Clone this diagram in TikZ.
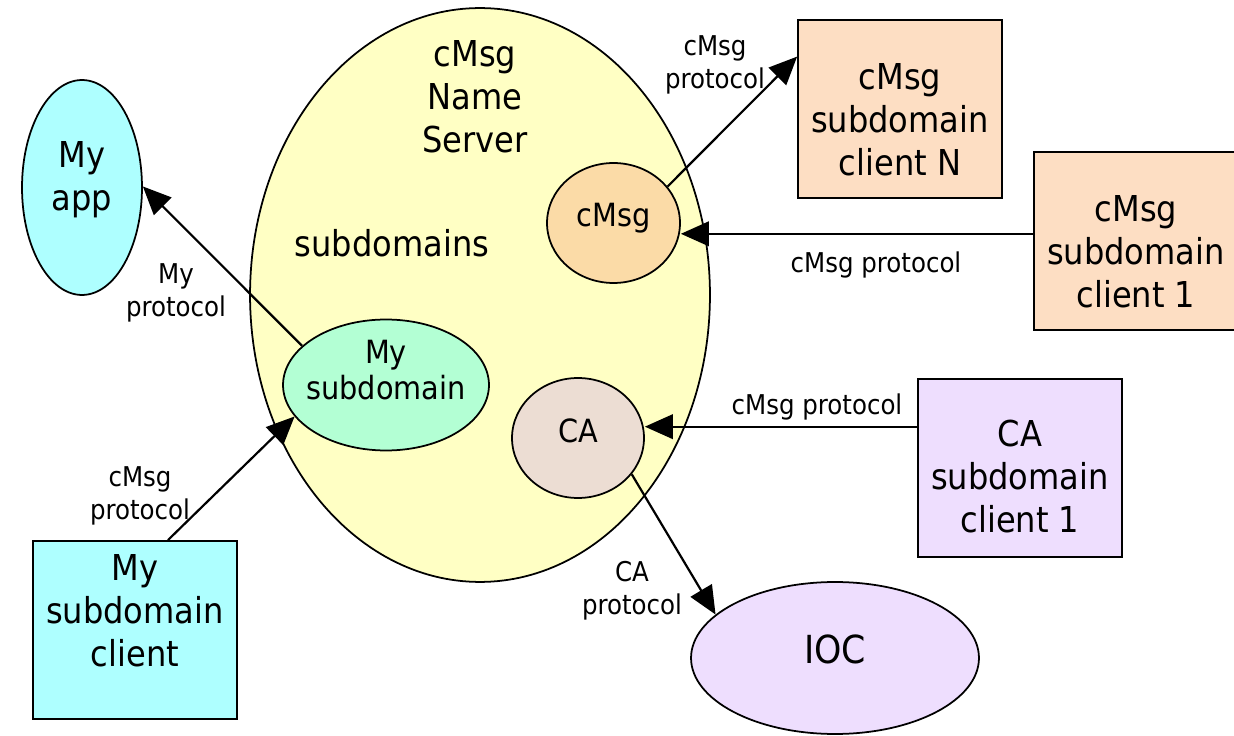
\documentclass[tikz,border=0pt]{standalone}
\usepackage{fontspec}
\setmainfont{DejaVu Sans Condensed}
\usetikzlibrary{shapes.geometric,arrows.meta,calc}

\definecolor{appcyan}{HTML}{AEFFFF}
\definecolor{srvyellow}{HTML}{FFFFC4}
\definecolor{cmsgorange}{HTML}{FBDBA7}
\definecolor{mint}{HTML}{B3FFD4}
\definecolor{cabrown}{HTML}{ECDDD3}
\definecolor{lavender}{HTML}{EEDEFE}
\definecolor{peach}{HTML}{FDDEC3}

\begin{document}
\begin{tikzpicture}[x=0.02cm,y=-0.02cm,
  big/.style={font=\fontsize{20.3}{24.6}\selectfont, align=center, inner sep=0pt},
  mid/.style={font=\fontsize{18.2}{20.5}\selectfont, align=center, inner sep=0pt},
  small/.style={font=\fontsize{15.5}{18.7}\selectfont, align=center, inner sep=0pt},
  oval/.style={ellipse, draw, line width=1pt, inner sep=0pt},
  clientbox/.style={rectangle, draw, line width=1pt, inner sep=0pt,
                    minimum width=4.08cm, minimum height=3.56cm},
  link/.style={line width=1.25pt, -{Triangle[length=16pt,width=14pt]}},
]
\useasboundingbox (0,0) rectangle (1234,736);

% name server and its subdomain handlers
\node[oval, fill=srvyellow, minimum width=9.2cm, minimum height=11.48cm] (server) at (480,295) {};
\node[big] (servertitle) at (475,97) {cMsg\\Name\\Server};
\node[big] (subdomains) at (392,243) {subdomains};

\node[oval, fill=cmsgorange, minimum width=2.66cm, minimum height=2.4cm,
      label={[mid,name=cmsgtext,yshift=2.8pt]center:cMsg}] (cmsg) at (613.5,223) {};
\node[oval, fill=mint, minimum width=4.12cm, minimum height=2.62cm,
      label={[mid,name=mysubtext,yshift=8.5pt]center:My\\subdomain}] (mysub) at (386,385) {};
\node[oval, fill=cabrown, minimum width=2.64cm, minimum height=2.4cm,
      label={[mid,name=catext,yshift=4pt]center:CA}] (ca) at (578,438) {};

% applications outside the server
\node[oval, fill=appcyan, minimum width=2.4cm, minimum height=4.3cm,
      label={[big,name=myapptext,yshift=4.5pt]center:My\\app}] (myapp) at (82,187.5) {};
\node[oval, fill=lavender, minimum width=5.76cm, minimum height=3.04cm,
      label={[big,name=ioctext,yshift=5pt,font=\fontsize{22}{26}\selectfont]center:IOC}] (ioc) at (835,658) {};

% clients
\node[clientbox, fill=peach,
      label={[big,name=cntext,yshift=-6pt]center:cMsg\\subdomain\\client N}] (cn) at (900,109) {};
\node[clientbox, fill=peach,
      label={[big,name=c1text,yshift=-6pt]center:cMsg\\subdomain\\client 1}] (c1) at (1136,241) {};
\node[clientbox, fill=lavender,
      label={[big,name=cactext,yshift=-5pt]center:CA\\subdomain\\client 1}] (cac) at (1020,468) {};
\node[clientbox, fill=appcyan,
      label={[big,name=msctext,yshift=11pt]center:My\\subdomain\\client}] (msc) at (135,630) {};

% protocol links
\draw[link] (mysub.155.7) -- (myapp.1);
\draw[link] (cmsg.34) -- (cn.153);
\coordinate (c1port) at ($(c1.north west)!0.46!(c1.south west)$);
\draw[link] (c1port) -- (c1port -| cmsg.east);
\coordinate (cacport) at ($(cac.north west)!0.27!(cac.south west)$);
\draw[link] (cacport) -- (cacport -| ca.east);
\draw[link] (ca.-34.4) -- (ioc.160.3);
\coordinate (mscport) at ($(msc.north west)!0.66!(msc.north east)$);
\draw[link] (mscport) -- (mysub.199);

% link labels
\node[small] (lblmy) at (176,293) {My\\protocol};
\node[small] (lblcn) at (715,65) {cMsg\\protocol};
\node[small] (lblc1) at (876,265) {cMsg protocol};
\node[small] (lblcac) at (817,407) {cMsg protocol};
\node[small] (lblioc) at (632,591) {CA\\protocol};
\node[small] (lblmsc) at (140,496) {cMsg\\protocol};
\end{tikzpicture}
\end{document}
